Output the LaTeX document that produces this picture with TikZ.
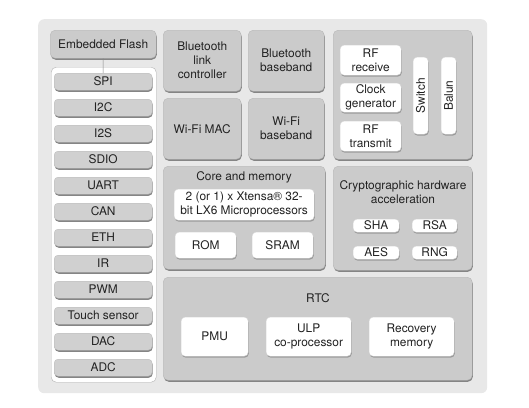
\documentclass[tikz,border=0pt]{standalone}
\usepackage{fontspec}
\setmainfont{TeX Gyre Heros}
\usetikzlibrary{shadows}
\definecolor{bgc}{HTML}{E8E8E8}
\definecolor{grpc}{HTML}{CBCBCB}
\definecolor{grpb}{HTML}{B8B8B8}
\definecolor{btnc}{HTML}{D0D0D0}
\definecolor{shc}{HTML}{858585}
\definecolor{wsh}{HTML}{9A9A9A}
\definecolor{txt}{HTML}{222222}
\newcommand\bx[7]{\node[#6, anchor=north west, minimum width={(#4-#2)*1pt}, minimum height={(#5-#3)*1pt}] (#1) at (#2,#3) {#7};}
\tikzset{
  base/.style={inner sep=0pt, align=center, text=txt, font=\fontsize{11.9}{14}\selectfont},
  grp/.style={base, fill=grpc, draw=grpb, line width=0.4pt, rounded corners=5pt,
    drop shadow={shadow xshift=0.6pt, shadow yshift=-1.6pt, fill=shc, opacity=1}},
  wbox/.style={base, fill=white, draw=white!85!black, line width=0.3pt, rounded corners=4pt,
    drop shadow={shadow xshift=0.6pt, shadow yshift=-1.5pt, fill=wsh, opacity=1}},
  pbtn/.style={base, fill=btnc, draw=grpb, line width=0.3pt, rounded corners=4pt,
    drop shadow={shadow xshift=0.5pt, shadow yshift=-1.6pt, fill=shc, opacity=1}},
  ttl/.style={base},
}
\begin{document}
\begin{tikzpicture}[x=1pt,y=-1pt]
\useasboundingbox (0,0) rectangle (529,407);
% background
\bx{bg}{38}{19}{487}{393}{base, fill=bgc, rounded corners=6pt}{}
% left column
\bx{panel}{51}{67}{156}{382}{base, fill=white, draw=white!70!black, line width=0.4pt, rounded corners=5pt}{}
\bx{flash}{50}{30}{156}{58}{grp}{Embedded Flash}
\bx{spi}{54}{73}{152}{90}{pbtn}{SPI}
\bx{itc}{54}{99}{152}{116}{pbtn}{I2C}
\bx{its}{54}{125}{152}{142}{pbtn}{I2S}
\bx{sdio}{54}{151}{152}{168}{pbtn}{SDIO}
\bx{uart}{54}{177}{152}{194}{pbtn}{UART}
\bx{can}{54}{203}{152}{220}{pbtn}{CAN}
\bx{eth}{54}{229}{152}{246}{pbtn}{ETH}
\bx{ir}{54}{255}{152}{272}{pbtn}{IR}
\bx{pwm}{54}{281}{152}{298}{pbtn}{PWM}
\bx{touch}{54}{307}{152}{324}{pbtn}{Touch sensor}
\bx{dac}{54}{333}{152}{350}{pbtn}{DAC}
\bx{adc}{54}{359}{152}{376}{pbtn}{ADC}
\draw[draw=shc, line width=0.5pt] (flash.south) -- (spi.north);
% bluetooth / wifi
\bx{btlc}{163}{30}{241}{91}{grp}{Bluetooth\\link\\controller}
\bx{btbb}{248}{30}{324}{91}{grp}{Bluetooth\\baseband}
\bx{wmac}{163}{98}{241}{159}{grp}{Wi-Fi MAC}
\bx{wbb}{248}{98}{324}{159}{grp}{Wi-Fi\\baseband}
% RF
\bx{rf}{333}{30}{472}{159}{grp}{}
\bx{rfrx}{340}{45}{401}{75}{wbox}{RF\\receive}
\bx{clk}{340}{83}{401}{112}{wbox}{Clock\\generator}
\bx{rftx}{340}{121}{401}{151}{wbox}{RF\\transmit}
\bx{sw}{413}{57}{428}{134}{wbox}{}
\bx{bal}{441}{57}{456}{134}{wbox}{}
\node[base, rotate=90] (swt) at (sw.center) {Switch};
\node[base, rotate=90] (balt) at (bal.center) {Balun};
% core and memory
\bx{core}{163}{166}{325}{269}{grp}{}
\node[ttl] (coret) at (244,177) {Core and memory};
\bx{cpu}{174}{189}{314}{220}{wbox}{2 (or 1) x Xtensa® 32-\\bit LX6 Microprocessors}
\bx{rom}{175}{232}{236}{258}{wbox}{ROM}
\bx{sram}{252}{232}{313}{258}{wbox}{SRAM}
% crypto
\bx{cry}{333}{166}{472}{270}{grp}{}
\node[ttl] (cryt) at (403,192.5) {Cryptographic hardware\\acceleration};
\bx{sha}{353}{219}{399}{232}{wbox}{SHA}
\bx{rsa}{412}{219}{457}{232}{wbox}{RSA}
\bx{aes}{353}{246}{399}{259}{wbox}{AES}
\bx{rng}{412}{246}{457}{259}{wbox}{RNG}
% RTC
\bx{rtc}{163}{277}{472}{380}{grp}{}
\node[ttl] (rtct) at (318,298) {RTC};
\bx{pmu}{181}{317}{248}{356}{wbox}{PMU}
\bx{ulp}{266}{317}{351}{356}{wbox}{ULP\\co-processor}
\bx{rec}{369}{317}{454}{356}{wbox}{Recovery\\memory}
\end{tikzpicture}
\end{document}
